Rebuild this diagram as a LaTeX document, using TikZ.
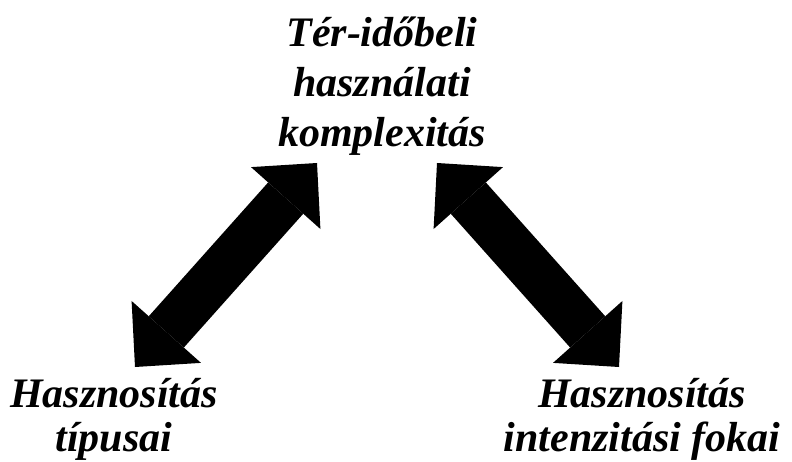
\documentclass[tikz,border=0pt]{standalone}
\usepackage{fontspec}
\setmainfont{Liberation Serif}
\usetikzlibrary{arrows.meta}
\begin{document}
\begin{tikzpicture}[x=1pt,y=-1pt]
        \useasboundingbox (0,0) rectangle (792,462);
        \begin{scope}[every node/.style={align=center,anchor=base,inner sep=0pt}]
          \node[font=\fontsize{42}{50}\selectfont\bfseries\itshape] (komp) at (382,147) {Tér-időbeli\\használati\\komplexitás};
          \node[font=\fontsize{42}{44}\selectfont\bfseries\itshape] (tipus) at (114,451) {Hasznosítás\\típusai};
          \node[font=\fontsize{42}{44}\selectfont\bfseries\itshape] (fok) at (642,451) {Hasznosítás\\intenzitási fokai};
        \end{scope}
        \coordinate (lt) at (317,163);
        \coordinate (lb) at (135,367);
        \coordinate (rt) at (437,163);
        \coordinate (rb) at (619,367);
        \begin{scope}[every edge/.style={draw=black,line width=47pt,
            {Triangle[width=93pt,length=47pt,line width=0pt]}-{Triangle[width=93pt,length=47pt,line width=0pt]}}]
          \path (lb) edge (lt);
          \path (rt) edge (rb);
        \end{scope}
      \end{tikzpicture}
\end{document}
